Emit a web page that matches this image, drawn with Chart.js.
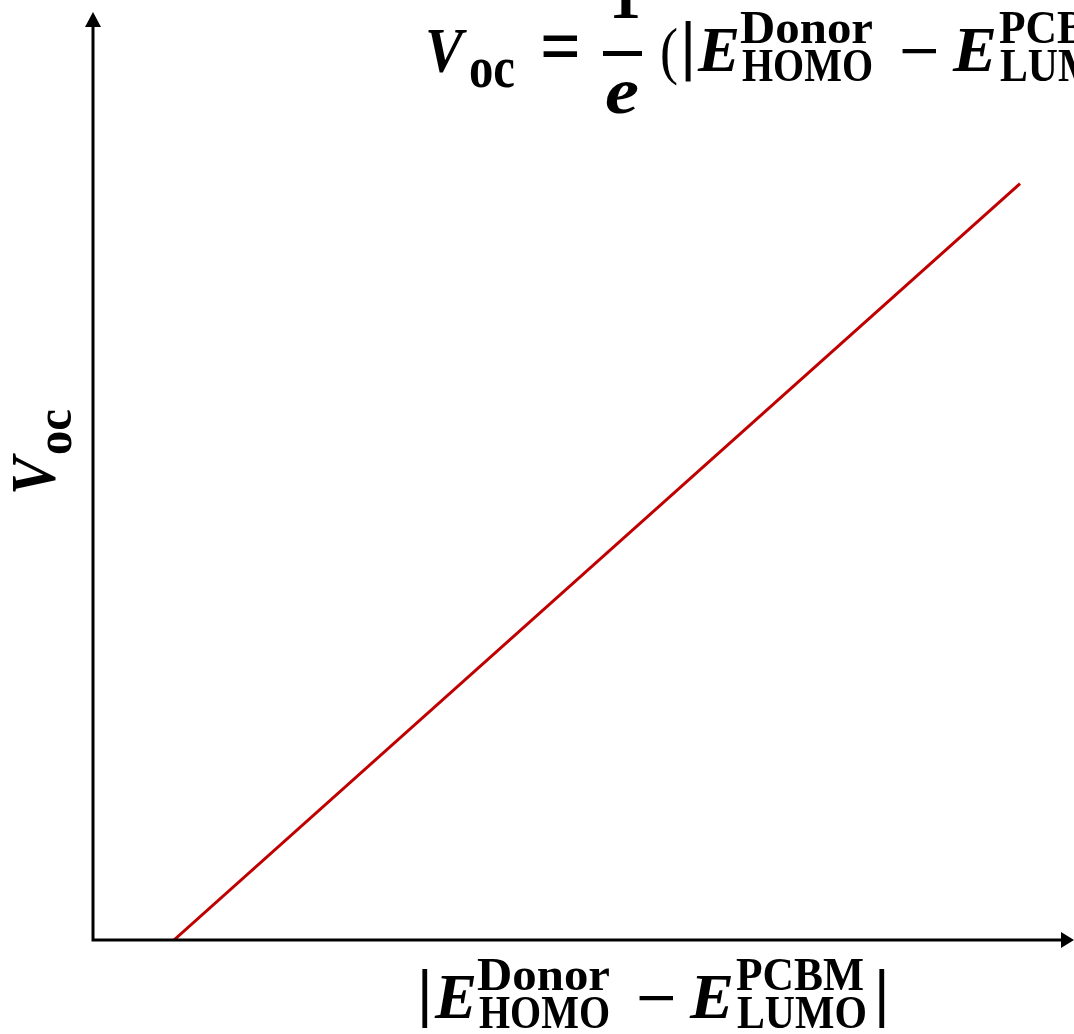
<!DOCTYPE html>
<html>
<head>
<meta charset="utf-8">
<script src="https://cdn.jsdelivr.net/npm/chart.js@4.4.1/dist/chart.umd.min.js"></script>
<style>
  html, body { margin: 0; padding: 0; background: #fff; }
  #wrap { width: 1074px; height: 1034px; }
</style>
</head>
<body>
<div id="wrap"><canvas id="c" width="1074" height="1034"></canvas></div>
<script>
// Energy gap |E_HOMO(donor) - E_LUMO(PCBM)| and the resulting open-circuit voltage (arb. units)
const energyGap = [0.165, 1.89];
const openCircuitV = [0, 1.63];
const axisMax = { x: 2, y: 2 };

const SERIF = '"Liberation Serif", "DejaVu Serif", serif';
const SANS = '"DejaVu Sans", sans-serif';

// draw a text run left-aligned at (x, base), optionally stretched to a given width
function put(ctx, text, style, size, x, base, w, family) {
  ctx.font = style + ' ' + size + 'px ' + (family || SERIF);
  const m = ctx.measureText(text).width;
  ctx.save();
  ctx.translate(x, base);
  if (w) ctx.scale(w / m, 1);
  ctx.textAlign = 'left';
  ctx.textBaseline = 'alphabetic';
  ctx.fillText(text, 0, 0);
  ctx.restore();
}

// |E_HOMO^Donor − E_LUMO^PCBM| with super/subscripts, anchored at baseline y
function energyExpr(ctx, x0, y, barSize) {
  put(ctx, '|', 'normal', barSize, x0 - 5, y - 4, null, SANS);
  put(ctx, 'E', 'italic bold', 63, x0 + 15, y, 42);
  put(ctx, 'Donor', 'bold', 47, x0 + 57, y - 28, 133);
  put(ctx, 'HOMO', 'bold', 47, x0 + 59, y + 10, 131);
  put(ctx, '\u2212', 'bold', 63, x0 + 216, y + 1, 41);
  put(ctx, 'E', 'italic bold', 63, x0 + 270, y, 44);
  put(ctx, 'PCBM', 'bold', 47, x0 + 316, y - 28, 128);
  put(ctx, 'LUMO', 'bold', 47, x0 + 317, y + 10, 130);
  put(ctx, '|', 'normal', barSize, x0 + 452, y - 4, null, SANS);
}

const labels = {
  id: 'labels',
  beforeDraw(chart) {
    const ctx = chart.ctx;
    ctx.save();
    ctx.fillStyle = '#fff';
    ctx.fillRect(0, 0, chart.width, chart.height);
    ctx.restore();
  },
  afterDraw(chart) {
    const ctx = chart.ctx;
    const xs = chart.scales.x, ys = chart.scales.y;
    const ox = xs.getPixelForValue(0), oy = ys.getPixelForValue(0);
    const right = chart.width, top = chart.chartArea.top;

    ctx.save();
    // axes with arrowheads
    ctx.strokeStyle = '#000';
    ctx.fillStyle = '#000';
    ctx.lineWidth = 3;
    ctx.beginPath();
    ctx.moveTo(ox, oy + 1.5);
    ctx.lineTo(ox, top + 12);
    ctx.moveTo(ox - 1.5, oy);
    ctx.lineTo(right - 10, oy);
    ctx.stroke();
    ctx.beginPath();
    ctx.moveTo(ox, top);
    ctx.lineTo(ox - 8, top + 15);
    ctx.lineTo(ox + 8, top + 15);
    ctx.closePath();
    ctx.fill();
    ctx.beginPath();
    ctx.moveTo(right, oy);
    ctx.lineTo(right - 13, oy - 8);
    ctx.lineTo(right - 13, oy + 8);
    ctx.closePath();
    ctx.fill();

    // equation across the top
    put(ctx, 'V', 'italic bold', 63, 425, 72, 38);
    put(ctx, 'oc', 'bold', 60, 469, 87, 46);
    put(ctx, '=', 'bold', 80, 540, 73, 41);
    put(ctx, '1', 'bold', 63, 609, 18, 32);
    ctx.fillRect(603, 51, 39, 5);
    put(ctx, 'e', 'italic bold', 65, 605, 113, 34);
    put(ctx, '(', 'normal', 63, 660, 72, 18);
    energyExpr(ctx, 683, 71, 60);

    // x-axis title
    energyExpr(ctx, 420, 1018, 58);

    // y-axis title, rotated
    ctx.save();
    ctx.rotate(-Math.PI / 2);
    put(ctx, 'V', 'italic bold', 63, -495, 55, 38);
    put(ctx, 'oc', 'bold', 50, -455, 71, 46);
    ctx.restore();
    ctx.restore();
  }
};

new Chart(document.getElementById('c'), {
  type: 'scatter',
  data: {
    datasets: [{
      data: energyGap.map((v, i) => ({ x: v, y: openCircuitV[i] })),
      showLine: true,
      borderColor: '#C00000',
      borderWidth: 3,
      pointRadius: 0,
      fill: false
    }]
  },
  options: {
    responsive: false,
    animation: false,
    events: [],
    layout: { padding: { left: 93, top: 12, right: 0, bottom: 94 } },
    plugins: { legend: { display: false }, tooltip: { enabled: false } },
    scales: {
      x: { type: 'linear', min: 0, max: axisMax.x, display: false },
      y: { type: 'linear', min: 0, max: axisMax.y, display: false }
    }
  },
  plugins: [labels]
});
</script>
</body>
</html>
